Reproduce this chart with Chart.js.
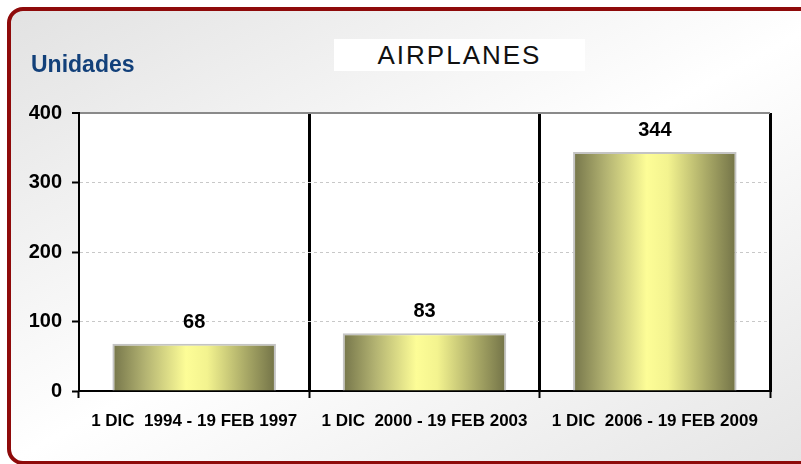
<!DOCTYPE html>
<html>
<head>
<meta charset="utf-8">
<script src="https://cdn.jsdelivr.net/npm/chart.js@4"></script>
<style>
    html, body { margin: 0; padding: 0; background: #ffffff; }
    body { width: 801px; height: 464px; position: relative; overflow: hidden; font-family: Arial, "Liberation Sans", sans-serif; }
    #frame {
        position: absolute; left: 7px; top: 7px; width: 830px; height: 450px;
        border: 4px solid #8e0a0a; border-radius: 16px;
        background: linear-gradient(to bottom right, #e2e2e2 0%, #ffffff 50%, #e4e4e4 100%);
    }
    #myChart { position: absolute; left: 0; top: 0; }
    #unidades {
        position: absolute; left: 31px; top: 53px; font-size: 23px; line-height: 23px;
        font-weight: bold; color: #12407a;
    }
    #titulo {
        position: absolute; left: 334px; top: 39px; width: 251px; height: 32px;
        background: #ffffff; text-align: center; font-size: 26px; line-height: 32px;
        letter-spacing: 2px; color: #111111;
    }
</style>
</head>
<body>
<div id="frame"></div>
<canvas id="myChart" width="801" height="464"></canvas>
<div id="unidades">Unidades</div>
<div id="titulo">AIRPLANES</div>

<script>
// data
const categories = ['1 DIC  1994 - 19 FEB 1997', '1 DIC  2000 - 19 FEB 2003', '1 DIC  2006 - 19 FEB 2009'];
const airplanes = [68, 83, 344];
const yTicks = [0, 100, 200, 300, 400];

// gradiente horizontal de cada barra (oscuro - amarillo - oscuro)
function barGradient(context) {
    const chart = context.chart;
    const xScale = chart.scales.x;
    if (!chart.chartArea || !xScale) return '#e0e08a';
    const center = xScale.getPixelForValue(context.dataIndex);
    const half = (xScale.width / categories.length) * 0.71 / 2;
    const g = chart.ctx.createLinearGradient(center - half, 0, center + half, 0);
    g.addColorStop(0, '#75754a');
    g.addColorStop(0.2, '#b3b372');
    g.addColorStop(0.45, '#fdfd97');
    g.addColorStop(0.58, '#f3f38f');
    g.addColorStop(0.82, '#a8a866');
    g.addColorStop(1, '#727247');
    return g;
}

// fondo blanco del area de trazado
const plotBackground = {
    id: 'plotBackground',
    beforeDraw(chart) {
        const a = chart.chartArea;
        const ctx = chart.ctx;
        ctx.save();
        ctx.fillStyle = '#ffffff';
        ctx.fillRect(a.left, a.top, a.right - a.left, a.bottom - a.top);
        ctx.restore();
    }
};

// etiquetas de valores encima de las barras
const valueLabels = {
    id: 'valueLabels',
    afterDatasetsDraw(chart) {
        const ctx = chart.ctx;
        const meta = chart.getDatasetMeta(0);
        ctx.save();
        ctx.font = 'bold 20px Arial, "Liberation Sans", sans-serif';
        ctx.fillStyle = '#000000';
        ctx.textAlign = 'center';
        ctx.textBaseline = 'alphabetic';
        meta.data.forEach((bar, i) => {
            ctx.fillText(String(airplanes[i]), bar.x, bar.y - 16);
        });
        ctx.restore();
    }
};

const ctx = document.getElementById('myChart').getContext('2d');
new Chart(ctx, {
    type: 'bar',
    data: {
        labels: categories,
        datasets: [{
            label: 'AIRPLANES',
            data: airplanes,
            backgroundColor: barGradient,
            borderColor: '#c4c4c4',
            borderWidth: 2,
            categoryPercentage: 1,
            barPercentage: 0.71
        }]
    },
    options: {
        responsive: false,
        animation: false,
        layout: { padding: { left: 0, top: 113, right: 31, bottom: 0 } },
        plugins: {
            legend: { display: false },
            tooltip: { enabled: false }
        },
        scales: {
            x: {
                afterFit: (scale) => { scale.height = 73; },
                grid: {
                    offset: true,
                    color: (c) => c.index === 0 ? 'rgba(0,0,0,0)' : (c.index === 3 ? '#8a8a8a' : '#000000'),
                    lineWidth: (c) => c.index === 3 ? 2 : 3,
                    tickColor: '#000000',
                    tickWidth: 2,
                    tickLength: 7
                },
                border: { color: '#000000', width: 2 },
                ticks: {
                    color: '#000000',
                    padding: 13,
                    font: { family: 'Arial, "Liberation Sans", sans-serif', size: 17, weight: 'bold' }
                }
            },
            y: {
                min: 0,
                max: 400,
                afterFit: (scale) => { scale.width = 79; },
                afterBuildTicks: (scale) => { scale.ticks = yTicks.map(v => ({ value: v })); },
                grid: {
                    color: (c) => c.tick && c.tick.value === 400 ? '#8a8a8a' : (c.tick && c.tick.value === 0 ? 'rgba(0,0,0,0)' : '#c8c8c8'),
                    lineWidth: (c) => c.tick && c.tick.value === 400 ? 2 : 1,
                    tickColor: '#000000',
                    tickWidth: 2,
                    tickLength: 7
                },
                border: {
                    color: '#000000',
                    width: 2,
                    dash: (c) => c.tick && c.tick.value === 400 ? [] : [3, 3]
                },
                ticks: {
                    color: '#000000',
                    padding: 10,
                    font: { family: 'Arial, "Liberation Sans", sans-serif', size: 20, weight: 'bold' }
                }
            }
        }
    },
    plugins: [plotBackground, valueLabels]
});
</script>
</body>
</html>
